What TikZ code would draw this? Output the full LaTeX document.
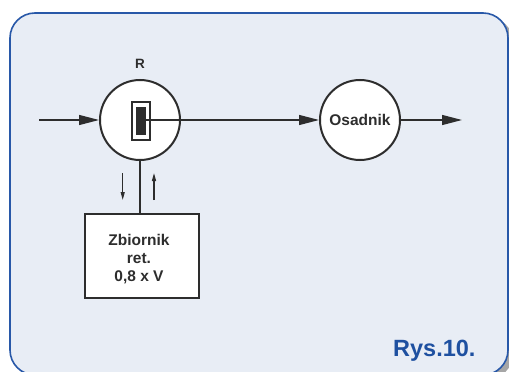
\documentclass[tikz,border=0pt]{standalone}
\usepackage{fontspec}
\setmainfont{Liberation Sans}
\usetikzlibrary{arrows.meta}
\definecolor{panelfill}{RGB}{232,237,245}
\definecolor{panelborder}{RGB}{40,88,168}
\definecolor{ink}{RGB}{45,45,45}
\definecolor{rysblue}{RGB}{30,80,160}
\tikzset{
  unit/.style={circle,draw=ink,line width=2pt,fill=white,minimum size=80pt,inner sep=0pt},
  flow/.style={draw=ink,line width=1.3pt,-{Triangle[length=20pt,width=10pt]}},
  small/.style={draw=ink,line width=1.2pt,-{Triangle[length=8pt,width=4pt]}},
  lbl/.style={text=ink,font=\bfseries\fontsize{15.5}{18}\selectfont,align=center},
}
\begin{document}
\begin{tikzpicture}[x=1pt,y=-1pt]
\useasboundingbox (0,0) rectangle (509,372);
% panel with shadow
\fill[gray!70,rounded corners=25pt] (14,17) rectangle (513,379);
\draw[panelborder,line width=1.6pt,fill=panelfill,rounded corners=25pt] (10,13) rectangle (508,375);
% nodes
\node[unit] (R) at (140,120) {};
\node[unit,lbl] (O) at (360,120) {Osadnik};
\node[text=ink,font=\bfseries\fontsize{13.5}{15}\selectfont] (Rl) at (140,64) {R};
\node[draw=ink,line width=2pt,fill=white,minimum width=114pt,minimum height=84pt,inner sep=0pt] (Z) at (142,256) {};
\node[lbl] (Zt) at (139,259) {Zbiornik\\ret.\\0,8 x V};
% inner element
\node[draw=ink,line width=1.2pt,fill=white,minimum width=18pt,minimum height=38pt,inner sep=0pt] (rect) at (141,121) {};
\node[fill=ink,minimum width=10pt,minimum height=28pt,inner sep=0pt] (blk) at (141,121) {};
% coordinates
\coordinate (in) at (39,120);
\coordinate (out) at (462,120);
\coordinate (d1) at (122.7,173);
\coordinate (d2) at (122.7,200);
\coordinate (u1) at (154,200);
\coordinate (u2) at (154,173);
% connectors
\draw[flow] (in) -- (R.west);
\draw[flow] (blk.east |- R.center) -- (O.west);
\draw[flow] (O.east) -- (out);
\draw[draw=ink,line width=1.3pt] (R.south) -- (R.south |- Z.north);
\draw[small] (d1) -- (d2);
\draw[small] (u1) -- (u2);
% label
\node[anchor=base east,text=rysblue,font=\bfseries\fontsize{23.5}{26}\selectfont] (rys) at (479,356) {Rys.10.};
\end{tikzpicture}
\end{document}
